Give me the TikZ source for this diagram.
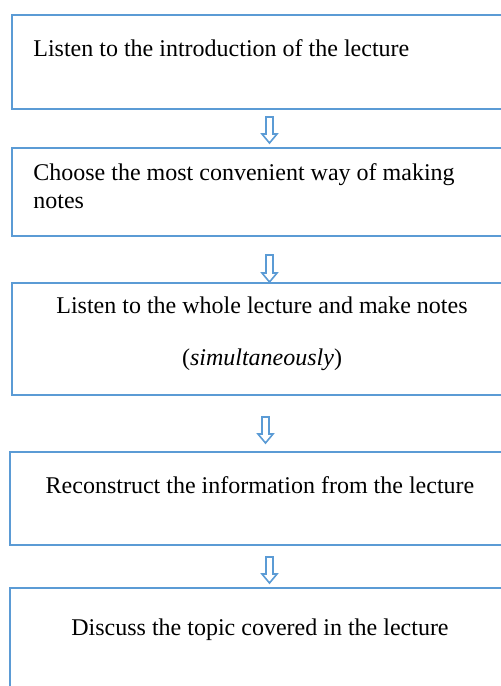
\documentclass[tikz,border=0pt]{standalone}
\usepackage{fontspec}
\setmainfont{Liberation Serif}
\usepackage{xcolor}
\usepackage{tikz}
\usetikzlibrary{positioning, calc}
\definecolor{flowblue}{RGB}{91,155,213}
\tikzset{
  %% Step box, runs off to the right
  stepbox/.style={
    rectangle, draw=flowblue, line width=1pt,
    inner sep=0pt, outer sep=0pt, anchor=north west,
    minimum width=257.5pt, minimum height=#1
  },
  stepbox/.default=45pt,
  %% Hollow down arrow between steps
  hollowarr/.style={
    draw=flowblue, fill=white, line width=0.8pt,
    to path={
      let \p1=(\tikztostart), \p2=(\tikztotarget) in
      (\x1-1.75pt,\y1) -- (\x1+1.75pt,\y1) -- (\x1+1.75pt,\y2+4.5pt)
      -- (\x1+3.75pt,\y2+4.5pt) -- (\x1,\y2) -- (\x1-3.75pt,\y2+4.5pt)
      -- (\x1-1.75pt,\y2+4.5pt) -- cycle
    }
  },
  %% Step text
  steptxt/.style={
    font=\fontsize{12}{14}\selectfont, text=black,
    inner sep=0pt, anchor=base
  },
}

\begin{document}
\begin{tikzpicture}[x=0.5pt, y=-0.5pt]
  \useasboundingbox (0,0) rectangle (501,686);
  \clip (0,0) rectangle (501,686);

  %% Step boxes
  \node[stepbox=47pt] (listen) at (12,15) {};
  \node[stepbox=44pt] (choose) at (12,148) {};
  \node[stepbox=56pt] (whole) at (12,283) {};
  \node[stepbox=46.5pt, minimum width=259.5pt] (recon) at (10,452) {};
  \node[stepbox=60pt, minimum width=259.5pt] (discuss) at (10,588) {};

  %% Step texts
  \node[steptxt, anchor=base west] (listentxt)
       at ([shift={(21,41)}]listen.north west)
       {Listen to the introduction of the lecture};
  \node[steptxt, anchor=base west] (choosetxt)
       at ([shift={(21,32)}]choose.north west)
       {Choose the most convenient way of making};
  \node[steptxt, anchor=base west] (choosetxtb)
       at ([shift={(21,60)}]choose.north west) {notes};
  \node[steptxt] (wholetxt) at ([shift={(250,30)}]whole.north west)
       {Listen to the whole lecture and make notes};
  \node[steptxt] (wholetxtb) at ([shift={(250,82)}]whole.north west)
       {(\textit{simultaneously})};
  \node[steptxt] (recontxt) at ([shift={(250,41)}]recon.north west)
       {Reconstruct the information from the lecture};
  \node[steptxt] (discusstxt) at ([shift={(250,47)}]discuss.north west)
       {Discuss the topic covered in the lecture};

  %% Arrows
  \draw[hollowarr] ([yshift=-4pt]listen.south) to ([yshift=2.5pt]choose.north);
  \draw[hollowarr] ([yshift=-9.5pt]choose.south) to ([yshift=0.5pt]whole.north);
  \draw[hollowarr] ([xshift=-2pt,yshift=-11pt]whole.south)
       to ([xshift=-2pt,yshift=4.5pt]recon.north);
  \draw[hollowarr] ([yshift=-6pt]recon.south) to ([yshift=2.5pt]discuss.north);

\end{tikzpicture}
\end{document}
